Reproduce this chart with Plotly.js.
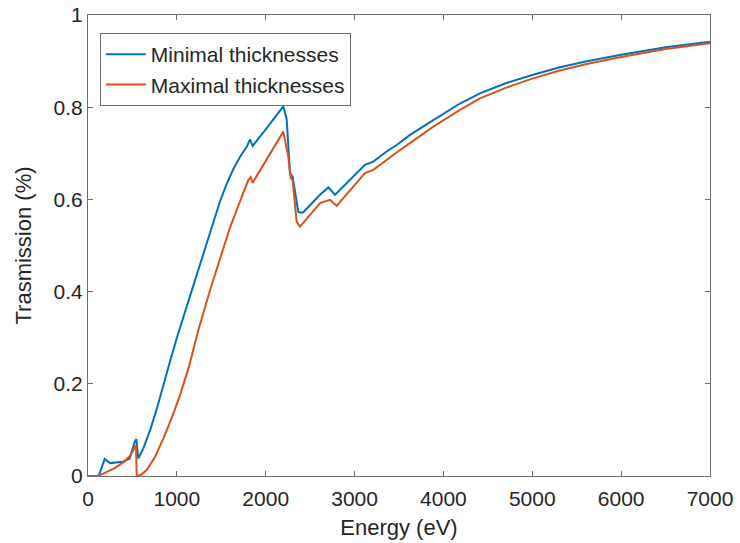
<!DOCTYPE html>
<html>
<head>
<meta charset="utf-8">
<script src="https://cdn.plot.ly/plotly-3.0.1.min.js"></script>
<style>html,body{margin:0;padding:0;background:#fff;}#chart{width:740px;height:543px;}</style>
</head>
<body>
<div id="chart"></div>
<script>
const minEnergy = [0, 100, 124, 188, 248, 330, 394, 469, 525, 544, 555, 566, 623, 700, 773, 850, 925, 1000, 1100, 1200, 1300, 1400, 1486, 1560, 1636, 1710, 1786, 1823, 1853, 2000, 2198, 2236, 2273, 2303, 2367, 2404, 2423, 2611, 2705, 2780, 3000, 3117, 3211, 3361, 3474, 3624, 3886, 4186, 4411, 4700, 5000, 5300, 5600, 6000, 6500, 7000];
const minTrans  = [0, 0, 0.002, 0.037, 0.028, 0.030, 0.031, 0.038, 0.074, 0.080, 0.050, 0.038, 0.060, 0.100, 0.145, 0.200, 0.250, 0.300, 0.360, 0.420, 0.482, 0.545, 0.596, 0.633, 0.666, 0.692, 0.714, 0.730, 0.716, 0.752, 0.802, 0.774, 0.657, 0.649, 0.573, 0.571, 0.572, 0.610, 0.626, 0.610, 0.652, 0.675, 0.682, 0.704, 0.718, 0.740, 0.772, 0.808, 0.830, 0.852, 0.870, 0.886, 0.899, 0.914, 0.930, 0.942];

const maxEnergy = [0, 113, 200, 300, 400, 480, 540, 548, 600, 660, 750, 845, 940, 1035, 1140, 1240, 1373, 1523, 1600, 1673, 1740, 1804, 1831, 1853, 2198, 2254, 2281, 2303, 2348, 2386, 2611, 2723, 2798, 3117, 3211, 3511, 3886, 4186, 4411, 4700, 5000, 5300, 5600, 6000, 6500, 7000];
const maxTrans  = [0, 0, 0.008, 0.017, 0.030, 0.045, 0.067, 0.0, 0.003, 0.013, 0.040, 0.080, 0.125, 0.175, 0.240, 0.315, 0.403, 0.497, 0.540, 0.577, 0.612, 0.642, 0.648, 0.636, 0.747, 0.693, 0.646, 0.642, 0.552, 0.541, 0.592, 0.599, 0.586, 0.657, 0.664, 0.707, 0.758, 0.794, 0.819, 0.842, 0.862, 0.879, 0.893, 0.909, 0.926, 0.939];

const xTicks = [0, 1000, 2000, 3000, 4000, 5000, 6000, 7000];
const xTickLabels = ['0', '1000', '2000', '3000', '4000', '5000', '6000', '7000'];
const yTicks = [0, 0.2, 0.4, 0.6, 0.8, 1];
const yTickLabels = ['0', '0.2', '0.4', '0.6', '0.8', '1'];
const seriesNames = ['Minimal thicknesses', 'Maximal thicknesses'];

const fontFam = 'Liberation Sans, Arial, sans-serif';
const txt = '#262626';
const axCol = '#6e6e6e';

const traces = [
  {x: minEnergy, y: minTrans, name: seriesNames[0], type: 'scatter', mode: 'lines', line: {color: '#0072BD', width: 2}},
  {x: maxEnergy, y: maxTrans, name: seriesNames[1], type: 'scatter', mode: 'lines', line: {color: '#D95319', width: 2}}
];

const axisCommon = {
  showgrid: false, zeroline: false, showline: true, linecolor: axCol, linewidth: 1,
  mirror: 'ticks', ticks: 'inside', ticklen: 5, tickcolor: axCol,
  tickfont: {family: fontFam, size: 21, color: txt}
};

const layout = {
  width: 740, height: 543,
  margin: {l: 88, r: 30, t: 15, b: 67},
  paper_bgcolor: '#fff', plot_bgcolor: '#fff',
  showlegend: true,
  legend: {
    x: 0.019, y: 0.961, xanchor: 'left', yanchor: 'top',
    bgcolor: '#fff', bordercolor: axCol, borderwidth: 1,
    font: {family: fontFam, size: 21, color: txt},
    tracegroupgap: 0, itemwidth: 40
  },
  xaxis: Object.assign({}, axisCommon, {
    range: [0, 7000], tickvals: xTicks, ticktext: xTickLabels, ticklabelstandoff: 4,
    title: {text: 'Energy (eV)', font: {family: fontFam, size: 22, color: txt}, standoff: 10}
  }),
  yaxis: Object.assign({}, axisCommon, {
    range: [0, 1], tickvals: yTicks, ticktext: yTickLabels,
    title: {text: 'Trasmission (%)', font: {family: fontFam, size: 22, color: txt}, standoff: 15}
  })
};

Plotly.newPlot('chart', traces, layout, {displayModeBar: false, staticPlot: true});
</script>
</body>
</html>
